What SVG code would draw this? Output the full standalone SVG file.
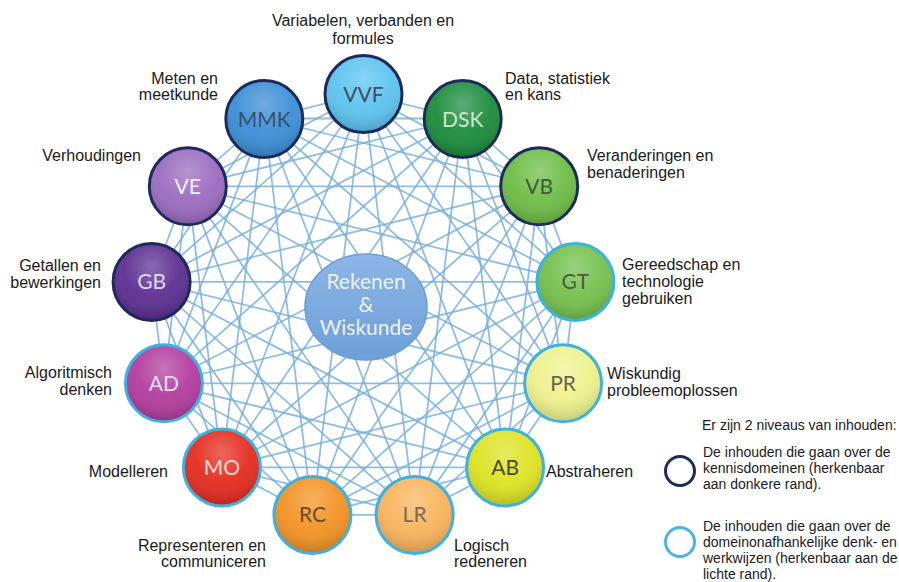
<svg xmlns="http://www.w3.org/2000/svg" width="899" height="582" viewBox="0 0 899 582">
<style>
.c{fill:none;stroke:#74acdd;stroke-width:1.8;stroke-opacity:0.8;stroke-linecap:round}
.dark{stroke:#1d2a5a;stroke-width:3}
.light{stroke:#3cb1e2;stroke-width:3}
.nl{font-family:Lato,"Open Sans",sans-serif;font-size:21px;text-anchor:middle}
.lab{font-family:"Liberation Sans",Arial,sans-serif;font-size:16px;fill:#1a1a1a}
.leg{font-family:"Liberation Sans",Arial,sans-serif;font-size:14px;fill:#1a1a1a}
.e{text-anchor:end}.m{text-anchor:middle}
</style>
<defs>
<radialGradient id="shine" cx="0.5" cy="0.3" r="0.7">
<stop offset="0" stop-color="#fff" stop-opacity="0.28"/>
<stop offset="0.55" stop-color="#fff" stop-opacity="0.05"/>
<stop offset="1" stop-color="#000" stop-opacity="0.16"/>
</radialGradient>
<linearGradient id="cg" x1="0" y1="0" x2="0" y2="1">
<stop offset="0" stop-color="#8cb5e6"/>
<stop offset="1" stop-color="#6d9fd8"/>
</linearGradient>
</defs>
<rect width="899" height="582" fill="#fff"/>
<g id="connectors">
<path class="c" d="M363.5,94.1L462.7,118.5M363.5,94.1L539.2,186.3M363.5,94.1L575.4,281.9M363.5,94.1L563.1,383.3M363.5,94.1L505.1,467.4M363.5,94.1L414.6,514.9M363.5,94.1L312.4,514.9M363.5,94.1L221.9,467.4M363.5,94.1L163.9,383.3M363.5,94.1L151.6,281.9M363.5,94.1L187.8,186.3M363.5,94.1L264.3,118.5"/>
<path class="c" d="M462.7,118.5L539.2,186.3M462.7,118.5L575.4,281.9M462.7,118.5L563.1,383.3M462.7,118.5L505.1,467.4M462.7,118.5L414.6,514.9M462.7,118.5L312.4,514.9M462.7,118.5L221.9,467.4M462.7,118.5L163.9,383.3M462.7,118.5L151.6,281.9M462.7,118.5L187.8,186.3M462.7,118.5L264.3,118.5"/>
<path class="c" d="M539.2,186.3L575.4,281.9M539.2,186.3L563.1,383.3M539.2,186.3L505.1,467.4M539.2,186.3L414.6,514.9M539.2,186.3L312.4,514.9M539.2,186.3L221.9,467.4M539.2,186.3L163.9,383.3M539.2,186.3L151.6,281.9M539.2,186.3L187.8,186.3M539.2,186.3L264.3,118.5"/>
<path class="c" d="M575.4,281.9L563.1,383.3M575.4,281.9L505.1,467.4M575.4,281.9L414.6,514.9M575.4,281.9L312.4,514.9M575.4,281.9L221.9,467.4M575.4,281.9L163.9,383.3M575.4,281.9L151.6,281.9M575.4,281.9L187.8,186.3M575.4,281.9L264.3,118.5"/>
<path class="c" d="M563.1,383.3L505.1,467.4M563.1,383.3L414.6,514.9M563.1,383.3L312.4,514.9M563.1,383.3L221.9,467.4M563.1,383.3L163.9,383.3M563.1,383.3L151.6,281.9M563.1,383.3L187.8,186.3M563.1,383.3L264.3,118.5"/>
<path class="c" d="M505.1,467.4L414.6,514.9M505.1,467.4L312.4,514.9M505.1,467.4L221.9,467.4M505.1,467.4L163.9,383.3M505.1,467.4L151.6,281.9M505.1,467.4L187.8,186.3M505.1,467.4L264.3,118.5"/>
<path class="c" d="M414.6,514.9L312.4,514.9M414.6,514.9L221.9,467.4M414.6,514.9L163.9,383.3M414.6,514.9L151.6,281.9M414.6,514.9L187.8,186.3M414.6,514.9L264.3,118.5"/>
<path class="c" d="M312.4,514.9L221.9,467.4M312.4,514.9L163.9,383.3M312.4,514.9L151.6,281.9M312.4,514.9L187.8,186.3M312.4,514.9L264.3,118.5"/>
<path class="c" d="M221.9,467.4L163.9,383.3M221.9,467.4L151.6,281.9M221.9,467.4L187.8,186.3M221.9,467.4L264.3,118.5"/>
<path class="c" d="M163.9,383.3L151.6,281.9M163.9,383.3L187.8,186.3M163.9,383.3L264.3,118.5"/>
<path class="c" d="M151.6,281.9L187.8,186.3M151.6,281.9L264.3,118.5"/>
<path class="c" d="M187.8,186.3L264.3,118.5"/>
</g>
<g id="center">
<ellipse cx="366" cy="307" rx="61" ry="53" fill="url(#cg)" stroke="#6b9bd2" stroke-width="1.5"/>
<text class="nl" x="366" y="289" font-size="18" fill="#eef3fb">Rekenen</text>
<text class="nl" x="366" y="312" font-size="18" fill="#eef3fb">&amp;</text>
<text class="nl" x="366" y="335" font-size="18" fill="#eef3fb">Wiskunde</text>
</g>
<g id="VVF"><circle cx="363.5" cy="94.1" r="38.5" fill="#5cc3f0" class="dark"/><circle cx="363.5" cy="94.1" r="37" fill="url(#shine)"/><text class="nl" x="363.5" y="101.6" fill="#3d4f60">VVF</text>
<text class="lab m" x="363" y="26">Variabelen, verbanden en</text><text class="lab m" x="363" y="44">formules</text></g>
<g id="DSK"><circle cx="462.7" cy="119" r="38.5" fill="#1b8c3c" class="dark"/><circle cx="462.7" cy="119" r="37" fill="url(#shine)"/><text class="nl" x="462.7" y="126.5" fill="#cfe6cf">DSK</text>
<text class="lab" x="505" y="84">Data, statistiek</text><text class="lab" x="505" y="100">en kans</text></g>
<g id="VB"><circle cx="539.2" cy="186.3" r="38.5" fill="#6dbd45" class="dark"/><circle cx="539.2" cy="186.3" r="37" fill="url(#shine)"/><text class="nl" x="539.2" y="193.8" fill="#3f5a3a">VB</text>
<text class="lab" x="587" y="161">Veranderingen en</text><text class="lab" x="587" y="178">benaderingen</text></g>
<g id="GT"><circle cx="575.4" cy="281.9" r="38.5" fill="#74c04c" class="light"/><circle cx="575.4" cy="281.9" r="37" fill="url(#shine)"/><text class="nl" x="575.4" y="289.4" fill="#4a5a48">GT</text>
<text class="lab" x="622" y="270">Gereedschap en</text><text class="lab" x="622" y="287">technologie</text><text class="lab" x="622" y="304">gebruiken</text></g>
<g id="PR"><circle cx="563.1" cy="383.3" r="38.5" fill="#eef28c" class="light"/><circle cx="563.1" cy="383.3" r="37" fill="url(#shine)"/><text class="nl" x="563.1" y="390.8" fill="#66664e">PR</text>
<text class="lab" x="607" y="379">Wiskundig</text><text class="lab" x="607" y="396">probleemoplossen</text></g>
<g id="AB"><circle cx="505.1" cy="467.4" r="38.5" fill="#dde322" class="light"/><circle cx="505.1" cy="467.4" r="37" fill="url(#shine)"/><text class="nl" x="505.1" y="474.9" fill="#4a4a20">AB</text>
<text class="lab" x="546" y="477">Abstraheren</text></g>
<g id="LR"><circle cx="414.6" cy="514.9" r="38.5" fill="#f9b45c" class="light"/><circle cx="414.6" cy="514.9" r="37" fill="url(#shine)"/><text class="nl" x="414.6" y="522.4" fill="#7a6a5a">LR</text>
<text class="lab" x="454" y="551">Logisch</text><text class="lab" x="454" y="567">redeneren</text></g>
<g id="RC"><circle cx="312.4" cy="514.9" r="38.5" fill="#f39223" class="light"/><circle cx="312.4" cy="514.9" r="37" fill="url(#shine)"/><text class="nl" x="312.4" y="522.4" fill="#6a4a30">RC</text>
<text class="lab e" x="266" y="551">Representeren en</text><text class="lab e" x="266" y="567">communiceren</text></g>
<g id="MO"><circle cx="221.9" cy="467.4" r="38.5" fill="#e52b1f" class="light"/><circle cx="221.9" cy="467.4" r="37" fill="url(#shine)"/><text class="nl" x="221.9" y="474.9" fill="#f8d8d0">MO</text>
<text class="lab e" x="168" y="477">Modelleren</text></g>
<g id="AD"><circle cx="163.9" cy="383.3" r="38.5" fill="#b23c9e" class="light"/><circle cx="163.9" cy="383.3" r="37" fill="url(#shine)"/><text class="nl" x="163.9" y="390.8" fill="#f4dcf0">AD</text>
<text class="lab e" x="112" y="378">Algoritmisch</text><text class="lab e" x="112" y="395">denken</text></g>
<g id="GB"><circle cx="151.6" cy="281.9" r="38.5" fill="#5c2e91" class="dark"/><circle cx="151.6" cy="281.9" r="37" fill="url(#shine)"/><text class="nl" x="151.6" y="289.4" fill="#e0d8f0">GB</text>
<text class="lab e" x="101" y="271">Getallen en</text><text class="lab e" x="101" y="288">bewerkingen</text></g>
<g id="VE"><circle cx="187.8" cy="186.3" r="38.5" fill="#9a6bbf" class="dark"/><circle cx="187.8" cy="186.3" r="37" fill="url(#shine)"/><text class="nl" x="187.8" y="193.8" fill="#f4eef8">VE</text>
<text class="lab e" x="141" y="161">Verhoudingen</text></g>
<g id="MMK"><circle cx="264.3" cy="119" r="38.5" fill="#3b8ed6" class="dark"/><circle cx="264.3" cy="119" r="37" fill="url(#shine)"/><text class="nl" x="264.3" y="126.5" fill="#37516e">MMK</text>
<text class="lab e" x="218" y="84">Meten en</text><text class="lab e" x="218" y="100">meetkunde</text></g>
<g id="legend">
<text class="leg" x="702" y="430">Er zijn 2 niveaus van inhouden:</text>
<circle cx="680" cy="471" r="14.5" fill="none" stroke="#1f2c58" stroke-width="3"/>
<text class="leg" x="703" y="457">De inhouden die gaan over de</text>
<text class="leg" x="703" y="473">kennisdomeinen (herkenbaar</text>
<text class="leg" x="703" y="489">aan donkere rand).</text>
<circle cx="680" cy="542" r="14.5" fill="none" stroke="#4ab4e4" stroke-width="3"/>
<text class="leg" x="703" y="531">De inhouden die gaan over de</text>
<text class="leg" x="703" y="547">domeinonafhankelijke denk- en</text>
<text class="leg" x="703" y="563">werkwijzen (herkenbaar aan de</text>
<text class="leg" x="703" y="579">lichte rand).</text>
</g>
</svg>
